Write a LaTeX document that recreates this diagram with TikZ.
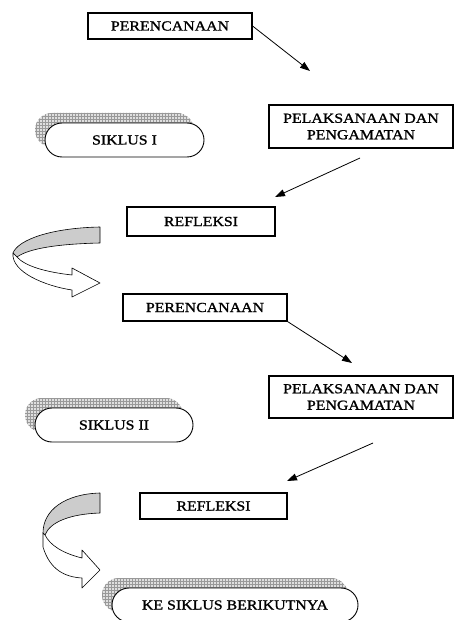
\documentclass[tikz,border=0pt]{standalone}
\usepackage{fontspec}
\setmainfont[FakeStretch=1.15,FakeBold=1.3]{Liberation Serif}
\usetikzlibrary{arrows.meta,shapes.misc,shadows,patterns}
\begin{document}
\begin{tikzpicture}[x=1pt,y=-1pt,
  box/.style={draw, line width=1.1pt, rectangle, align=center, inner sep=0pt,
    fill=white, font=\fontsize{13.8}{16.5}\selectfont},
  pill/.style={draw, line width=0.9pt, rounded rectangle, minimum height=34pt,
    inner sep=0pt, fill=white, font=\fontsize{13.8}{16.5}\selectfont,
    general shadow={shadow xshift=-10pt, shadow yshift=10pt, fill=gray!25},
    general shadow={shadow xshift=-10pt, shadow yshift=10pt, pattern=grid, pattern color=gray!80}},
  conn/.style={-{Triangle[length=10pt,width=7pt]}, line width=0.8pt},
  ribgray/.style={fill=gray!40, draw, line width=0.6pt, line join=round},
  ribwhite/.style={fill=white, draw, line width=0.6pt, line join=round}]
\useasboundingbox (0,0) rectangle (454,620);
\clip (0,0) rectangle (454,620);

% cycle I
\node[box, minimum width=164pt, minimum height=26pt] (p1) at (170,26) {PERENCANAAN};
\node[box, minimum width=184pt, minimum height=43pt] (l1) at (361,126.5) {PELAKSANAAN DAN\\PENGAMATAN};
\node[box, minimum width=148pt, minimum height=29pt] (r1) at (201,221.5) {REFLEKSI};
\node[pill, minimum width=159pt] (s1) at (124.5,140) {SIKLUS I};

\coordinate (a1e) at (310,71);
\coordinate (a2s) at (360,158);
\coordinate (a2e) at (275,197);
\draw[conn] (p1.east) -- (a1e);
\draw[conn] (a2s) -- (a2e);

% ribbon arrow 1
\path[ribgray] (100,227) .. controls (50,228) and (18,240) .. (13,253) -- (17,257)
  .. controls (28,249) and (55,244) .. (100,243) -- cycle;
\path[ribwhite] (13,253) .. controls (11,272) and (45,286) .. (72,290) -- (72,297)
  -- (100,283) -- (72,268) -- (72,275) .. controls (45,272) and (25,266) .. (17,257) -- cycle;

% cycle II
\node[box, minimum width=164pt, minimum height=27pt] (p2) at (205,307.5) {PERENCANAAN};
\node[box, minimum width=184pt, minimum height=42pt] (l2) at (361,397) {PELAKSANAAN DAN\\PENGAMATAN};
\node[box, minimum width=147pt, minimum height=26pt] (r2) at (213.5,506) {REFLEKSI};
\node[pill, minimum width=158pt] (s2) at (114,425) {SIKLUS II};

\coordinate (a3e) at (352,363);
\coordinate (a4s) at (373,443);
\coordinate (a4e) at (287,481);
\draw[conn] (p2.south east) -- (a3e);
\draw[conn] (a4s) -- (a4e);

% ribbon arrow 2
\path[ribgray] (100,493) .. controls (65,494) and (43,510) .. (43,533) -- (45,535)
  .. controls (50,522) and (70,514) .. (100,513) -- cycle;
\path[ribwhite] (43,533) -- (43,547) .. controls (50,570) and (65,577) .. (82,578) -- (82,588)
  -- (100,570) -- (82,550) -- (82,558) .. controls (62,553) and (50,545) .. (45,535) -- cycle;

\node[pill, minimum width=246pt] (k) at (235,605) {KE SIKLUS BERIKUTNYA};
\end{tikzpicture}
\end{document}
